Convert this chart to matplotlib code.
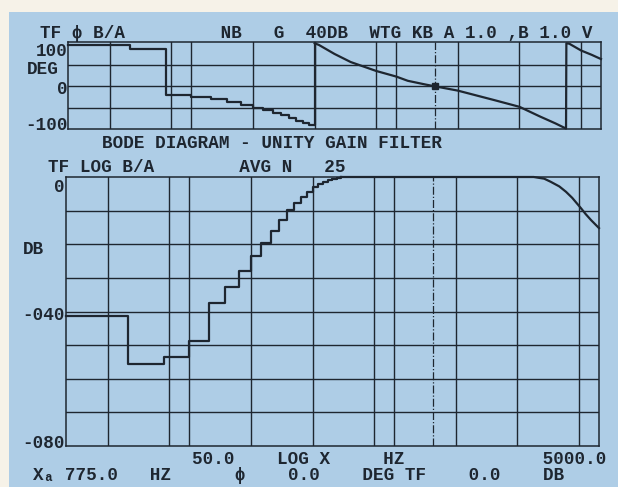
import matplotlib
matplotlib.use("Agg")
import matplotlib.pyplot as plt
from matplotlib.ticker import NullLocator, NullFormatter
from matplotlib.patches import Rectangle

# analyser settings: 400 lines up to 5000 Hz, log x display
f_start = 12.5
f_stop = 5000.0
cursor_freq = 775.0
cursor_phase = 0.0
cursor_mag = 0.0

# vertical grid on the log frequency axis
grid_freqs = [20, 40, 50, 100, 200, 400, 500, 1000, 2000, 4000]

# magnitude, low end drawn bin by bin (12.5 Hz bins)
mag_lo_freq = [12.5, 25, 37.5, 50, 62.5, 75, 87.5, 100, 112.5, 125, 137.5,
               150, 162.5, 175, 187.5, 200, 212.5, 225, 237.5, 250, 262.5, 275]
mag_lo_db = [-41.3, -55.6, -53.5, -48.8, -37.5, -32.7, -28.0, -23.5, -19.7,
             -16.0, -12.8, -9.8, -7.8, -6.0, -4.4, -3.0, -2.2, -1.5, -1.0,
             -0.6, -0.3, 0.0]
# magnitude, passband and roll-off
mag_hi_freq = [275, 1000, 2400, 2700, 2900, 3200, 3450, 3700, 4085, 4300, 4570, 5000]
mag_hi_db = [0.0, 0.0, 0.0, -0.5, -1.4, -2.8, -4.4, -6.2, -9.3, -11.0, -12.8, -15.2]

# phase, low end drawn bin by bin, wraps at 200 Hz
ph_lo_freq = [12.5, 25, 37.5, 50, 62.5, 75, 87.5, 100, 112.5, 125, 137.5,
              150, 162.5, 175, 187.5, 200]
ph_lo_deg = [97, 88, -20, -24, -30, -37, -44, -51, -56, -62, -67, -75, -81,
             -86, -91, 101]
# phase above 200 Hz, wraps again near 3.4 kHz
ph_hi_freq = [200, 210, 250, 300, 400, 500, 570, 700, 775, 1000, 1500, 2000,
              2500, 3000, 3375, 3387.5, 3500, 4000, 4500, 5000]
ph_hi_deg = [101, 97, 76, 57, 36, 23, 13, 4, 0, -10, -32, -48, -70, -87,
             -99, 101, 100, 84, 74, 64]

bg = "#aecde6"
ink = "#1e2630"
cream = "#f6f2e8"
W, H = 618, 487

fig = plt.figure(figsize=(W / 100, H / 100), dpi=100)
fig.patch.set_facecolor(bg)
fig.patches.append(Rectangle((0, 1 - 12 / H), 1, 12 / H, transform=fig.transFigure,
                             facecolor=cream, edgecolor="none", zorder=0))
fig.patches.append(Rectangle((0, 0), 9 / W, 1, transform=fig.transFigure,
                             facecolor=cream, edgecolor="none", zorder=0))


def px_axes(x0, y0, x1, y1):
    return fig.add_axes([x0 / W, 1 - y1 / H, (x1 - x0) / W, (y1 - y0) / H])


def style(ax, ylim, yticks):
    ax.set_facecolor(bg)
    ax.set_xscale("log")
    ax.set_xlim(f_start, f_stop)
    ax.set_ylim(*ylim)
    ax.set_xticks(grid_freqs)
    ax.set_yticks(yticks)
    ax.xaxis.set_minor_locator(NullLocator())
    ax.xaxis.set_major_formatter(NullFormatter())
    ax.xaxis.set_minor_formatter(NullFormatter())
    ax.yaxis.set_major_formatter(NullFormatter())
    ax.tick_params(length=0)
    ax.grid(True, color=ink, linewidth=1.0)
    for s in ax.spines.values():
        s.set_color(ink)
        s.set_linewidth(1.1)
    ax.axvline(cursor_freq, color=ink, linewidth=0.9, linestyle="-.")


# phase panel
ax1 = px_axes(68, 42, 601, 129)
style(ax1, (-100, 104), [-50, 0, 50])
ax1.plot(ph_lo_freq, ph_lo_deg, drawstyle="steps-post", color=ink, linewidth=1.6, clip_on=False)
ax1.plot(ph_hi_freq, ph_hi_deg, color=ink, linewidth=1.6, clip_on=False)
ax1.plot([cursor_freq], [cursor_phase], marker="s", markersize=4, color=ink)

# magnitude panel
ax2 = px_axes(66, 177, 599, 446)
style(ax2, (-80, 0), list(range(-70, 0, 10)))
ax2.plot(mag_lo_freq, mag_lo_db, drawstyle="steps-post", color=ink, linewidth=1.6, clip_on=False)
ax2.plot(mag_hi_freq, mag_hi_db, color=ink, linewidth=1.6, clip_on=False)

mono = ["Liberation Mono", "DejaVu Sans Mono"]


def label(x, y, s, ha="left", size=12.7):
    fig.text(x / W, 1 - y / H, s, ha=ha, va="center", color=ink,
             family=mono, fontsize=size, fontweight="bold")


label(40, 34, "TF \u03d5 B/A         NB   G  40DB  WTG KB A 1.0 ,B 1.0 V")
label(68, 51, "100", ha="right")
label(27, 70, "DEG")
label(68, 90, "0", ha="right")
label(68, 126, "-100", ha="right")

label(102, 144, "BODE DIAGRAM - UNITY GAIN FILTER")
label(48, 167, "TF LOG B/A        AVG N   25")

label(65, 187, "0", ha="right")
label(23, 249, "DB")
label(65, 316, "-040", ha="right")
label(65, 443, "-080", ha="right")

label(192, 459, f"{50:.1f}    LOG X     HZ             {f_stop:.1f}")
label(33, 475, f"X\u2090 {cursor_freq:.1f}   HZ      \u03d5    {cursor_phase:.1f}"
               f"    DEG TF    {cursor_mag:.1f}    DB")

fig.savefig("out.png", dpi=100, facecolor=fig.get_facecolor())
